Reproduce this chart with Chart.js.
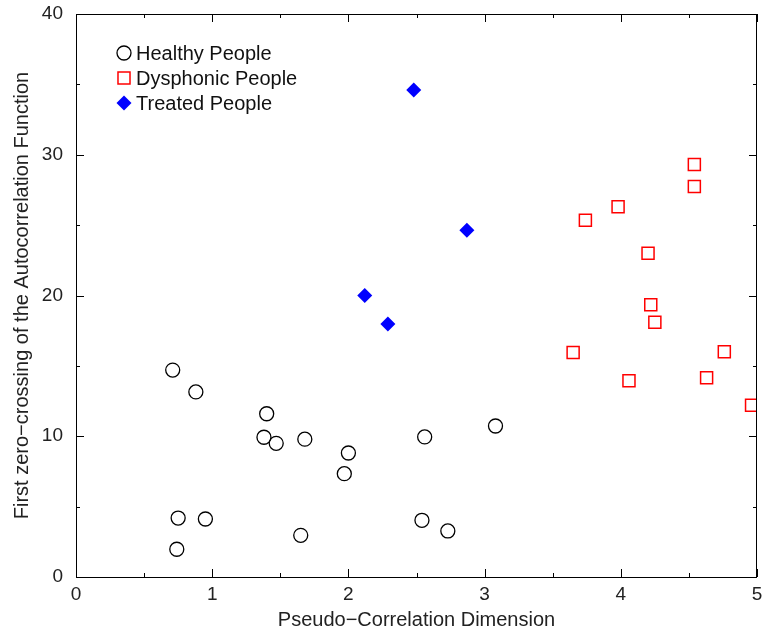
<!DOCTYPE html>
<html>
<head>
<meta charset="utf-8">
<script src="https://cdn.jsdelivr.net/npm/chart.js@4.4.1/dist/chart.umd.min.js"></script>
<style>
  body { margin: 0; background: #fff; }
  canvas { display: block; }
</style>
</head>
<body>
<canvas id="scatterChart" width="763" height="634"></canvas>
<script>
// values
const healthyX = [0.71, 0.88, 1.40, 1.38, 1.47, 1.68, 2.00, 1.97, 2.56, 3.08, 0.75, 0.95, 0.74, 1.65, 2.54, 2.73];
const healthyY = [14.7, 13.15, 11.6, 9.93, 9.5, 9.79, 8.81, 7.34, 9.95, 10.73, 4.19, 4.12, 1.97, 2.96, 4.03, 3.27];
const dysphonicX = [4.54, 4.54, 3.98, 3.74, 4.20, 4.22, 4.25, 3.65, 4.76, 4.06, 4.63, 4.96];
const dysphonicY = [29.3, 27.75, 26.3, 25.35, 23.0, 19.35, 18.1, 15.95, 16.0, 13.95, 14.15, 12.2];
const treatedX = [2.48, 2.87, 2.12, 2.29];
const treatedY = [34.6, 24.64, 20.0, 17.98];
const seriesNames = ['Healthy People', 'Dysphonic People', 'Treated People'];
const xTicks = [0, 1, 2, 3, 4, 5];
const yTicks = [0, 10, 20, 30, 40];

const toPoints = (xs, ys) => xs.map((x, i) => ({ x: x, y: ys[i] }));

// frame with inward ticks on all four sides, like the gnuplot original
const framePlugin = {
  id: 'frame',
  afterDraw(chart) {
    const ctx = chart.ctx;
    const a = chart.chartArea;
    const xs = chart.scales.x;
    const ys = chart.scales.y;
    ctx.save();
    ctx.strokeStyle = '#000';
    ctx.lineWidth = 1;
    ctx.strokeRect(a.left + 0.5, a.top + 0.5, a.right - a.left - 1, a.bottom - a.top);
    ctx.beginPath();
    for (let v = 0; v <= 5; v += 0.5) {
      const px = Math.round(xs.getPixelForValue(v)) + 0.5;
      const len = (v % 1 === 0) ? 8 : 4;
      ctx.moveTo(px, a.bottom); ctx.lineTo(px, a.bottom - len);
      ctx.moveTo(px, a.top); ctx.lineTo(px, a.top + len);
    }
    for (let v = 0; v <= 40; v += 5) {
      const py = Math.round(ys.getPixelForValue(v)) + 0.5;
      const len = (v % 10 === 0) ? 8 : 4;
      ctx.moveTo(a.left, py); ctx.lineTo(a.left + len, py);
      ctx.moveTo(a.right, py); ctx.lineTo(a.right - len, py);
    }
    ctx.stroke();
    ctx.restore();
  }
};

// legend drawn inside the plot, top-left
const innerLegend = {
  id: 'innerLegend',
  afterDraw(chart) {
    const ctx = chart.ctx;
    const a = chart.chartArea;
    ctx.save();
    ctx.font = '20px "Liberation Sans", Arial, sans-serif';
    ctx.textBaseline = 'middle';
    ctx.fillStyle = '#111';
    chart.data.datasets.forEach((ds, i) => {
      const cx = a.left + 48;
      const cy = a.top + 39 + i * 25;
      ctx.save();
      ctx.strokeStyle = ds.pointBorderColor;
      ctx.fillStyle = ds.pointBackgroundColor;
      ctx.lineWidth = ds.pointBorderWidth;
      Chart.helpers.drawPoint(ctx, {
        pointStyle: ds.pointStyle,
        radius: ds.pointRadius,
        borderWidth: ds.pointBorderWidth,
        rotation: 0
      }, cx, cy);
      ctx.restore();
      ctx.fillText(ds.label, cx + 12, cy + 1);
    });
    ctx.restore();
  }
};

new Chart(document.getElementById('scatterChart'), {
  type: 'scatter',
  data: {
    datasets: [
      {
        label: seriesNames[0],
        data: toPoints(healthyX, healthyY),
        pointStyle: 'circle',
        pointRadius: 7,
        pointBorderWidth: 1.3,
        pointBorderColor: '#000',
        pointBackgroundColor: 'rgba(0,0,0,0)'
      },
      {
        label: seriesNames[1],
        data: toPoints(dysphonicX, dysphonicY),
        pointStyle: 'rect',
        pointRadius: 8.5,
        pointBorderWidth: 1.5,
        pointBorderColor: '#ff0000',
        pointBackgroundColor: 'rgba(0,0,0,0)'
      },
      {
        label: seriesNames[2],
        data: toPoints(treatedX, treatedY),
        pointStyle: 'rectRot',
        pointRadius: 7.5,
        pointBorderWidth: 0,
        pointBorderColor: '#0000ff',
        pointBackgroundColor: '#0000ff'
      }
    ]
  },
  options: {
    responsive: false,
    animation: false,
    devicePixelRatio: 1,
    layout: { autoPadding: false, padding: { top: 14, right: 6, left: 0, bottom: 0 } },
    plugins: {
      legend: { display: false },
      tooltip: { enabled: false }
    },
    scales: {
      x: {
        type: 'linear',
        min: 0,
        max: 5,
        afterFit(scale) {
          scale.height = 57;
          scale.paddingLeft = 0;
          scale.paddingRight = 0;
        },
        afterBuildTicks(scale) { scale.ticks = xTicks.map(v => ({ value: v })); },
        grid: { display: false, drawTicks: false },
        border: { display: false },
        ticks: {
          padding: 6,
          color: '#222',
          font: { family: '"Liberation Sans", Arial, sans-serif', size: 19 }
        },
        title: {
          display: true,
          text: 'Pseudo−Correlation Dimension',
          color: '#222',
          padding: { top: 2, bottom: 2 },
          font: { family: '"Liberation Sans", Arial, sans-serif', size: 20, lineHeight: 1.2 }
        }
      },
      y: {
        type: 'linear',
        min: 0,
        max: 40,
        afterFit(scale) {
          scale.width = 76;
          scale.paddingTop = 0;
          scale.paddingBottom = 0;
        },
        afterBuildTicks(scale) { scale.ticks = yTicks.map(v => ({ value: v })); },
        grid: { display: false, drawTicks: false },
        border: { display: false },
        ticks: {
          padding: 13,
          color: '#222',
          font: { family: '"Liberation Sans", Arial, sans-serif', size: 19 }
        },
        title: {
          display: true,
          text: 'First zero−crossing of the Autocorrelation Function',
          color: '#222',
          padding: { top: 10, bottom: 0 },
          font: { family: '"Liberation Sans", Arial, sans-serif', size: 20, lineHeight: 1.2 }
        }
      }
    }
  },
  plugins: [framePlugin, innerLegend]
});
</script>
</body>
</html>
